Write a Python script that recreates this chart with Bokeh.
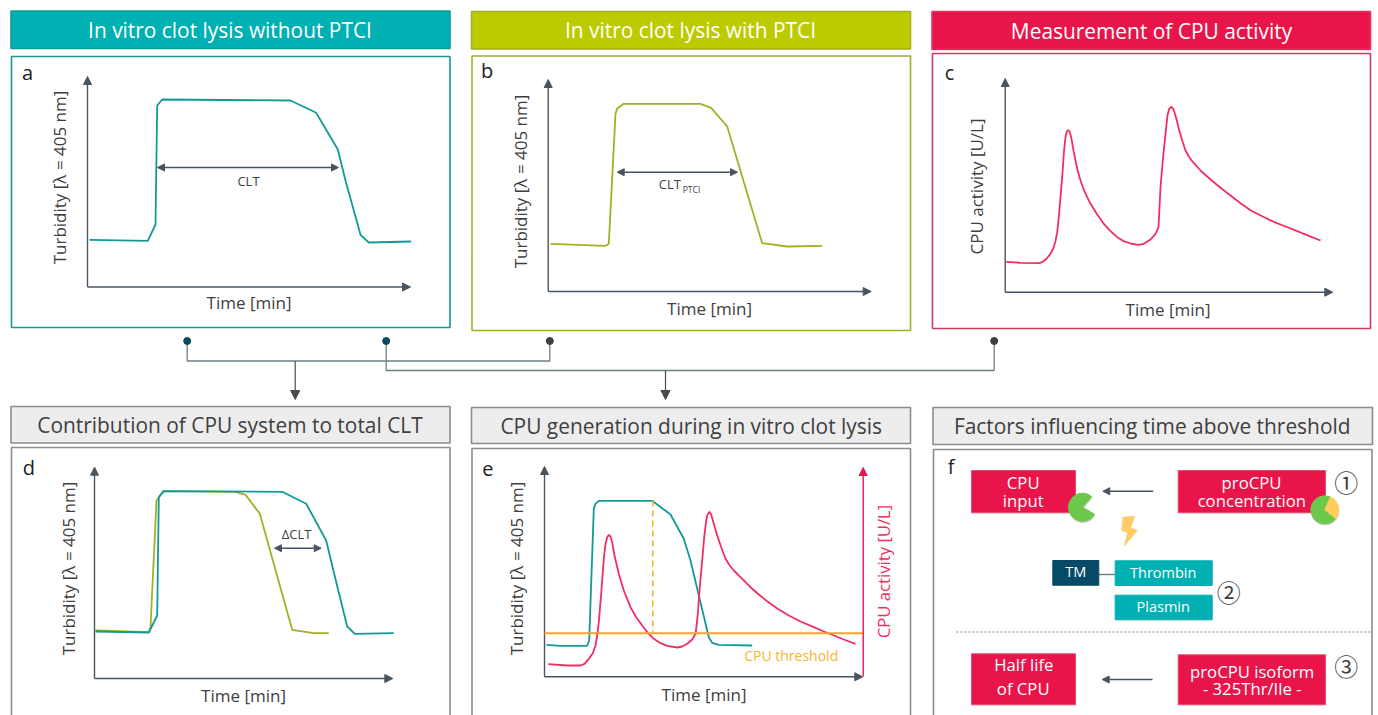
from math import radians, pi
from bokeh.plotting import figure
from bokeh.models import Range1d, Arrow, NormalHead
from bokeh.core.properties import value
from bokeh.embed import file_html
from bokeh.resources import INLINE

W, H = 1378, 715
FONT = "Open Sans"
TEAL, TEAL_LINE = "#00B0B2", "#119A98"
OLIVE, OLIVE_LINE = "#BCCB00", "#A5AF25"
RED, RED_LINE = "#E9144A", "#F02F60"
GREY_FILL, GREY_LINE = "#EDEDED", "#8C8C8C"
AXIS = "#4A5460"
TEXT = "#404040"
ORANGE = "#F5A623"

# Curves: time position, signal position
a_time = [89, 147.3, 155, 156.7, 161.7, 290, 315.7, 337.3, 345, 360, 368.3, 410.7]
a_turbidity = [239.3, 240.3, 224, 105, 99, 100, 112.3, 149, 180, 234.3, 242, 241]
b_time = [550, 605, 608.3, 615, 616.7, 623.3, 700, 710.7, 726.7, 761.7, 786.7, 821.7]
b_turbidity = [243.3, 245.3, 243.3, 113.3, 108, 103.3, 103.3, 107.3, 126, 242.7, 246, 245.3]
c_time = [1005.7, 1020, 1038.3, 1041.7, 1046, 1050, 1052.7, 1055, 1056.7, 1058.3, 1060, 1061.7, 1063.3,
          1065, 1066.3, 1067.7, 1069, 1070.7, 1073.3, 1076.7, 1080, 1083.3, 1086.7, 1090, 1096.7,
          1103.3, 1110, 1116.7, 1123.3, 1130, 1137.7, 1143.3, 1150, 1155, 1158, 1159, 1160, 1162.3,
          1165, 1167, 1168.7, 1171, 1172.7, 1175, 1178.3, 1181.7, 1185, 1188.3, 1191.7, 1200, 1210,
          1220, 1230, 1240, 1250, 1261.7, 1273.3, 1285, 1296.7, 1308.3, 1320]
c_activity = [261.3, 262.3, 262.7, 261.7, 258.3, 253.3, 248.3, 240.7, 231.7, 216.7, 196.7, 176.7, 153.3,
              136.7, 131, 129.7, 130.7, 136.7, 151.7, 168.3, 180, 189.3, 196.7, 203.3, 214,
              223.3, 230.7, 236.7, 240.7, 243, 244.3, 243.3, 239, 233.3, 226.7, 206.7, 186.7, 160,
              133.3, 115, 108.3, 106.3, 108.3, 115, 128.3, 140, 150, 156, 160.7, 170, 179,
              187.3, 195, 202.7, 209.7, 215.7, 221.3, 226, 230.7, 235.3, 240]
d_time_teal = [95, 148.3, 156.7, 158.3, 163.3, 281.7, 305.7, 325.7, 333.3, 346.7, 354.3, 393.3]
d_turb_teal = [631, 632, 615, 496.7, 490.7, 491.3, 503.3, 540, 571.7, 626, 633.3, 632.7]
d_time_olive = [95, 148.3, 150, 156, 162.7, 235, 245, 259.3, 291.7, 313.3, 328.3]
d_turb_olive = [630, 631.7, 626.7, 500, 490.7, 491.3, 494.3, 513.3, 629.3, 632.7, 632.7]
e_time_teal = [546, 560, 586.7, 588.7, 593.3, 595, 598.3, 651.7, 670, 683.3, 690, 708.3, 711.7, 718.3, 751.7]
e_turb_teal = [644.3, 645.3, 645.3, 640, 508.3, 503.3, 500.3, 500.3, 514, 538.3, 560, 636.7, 642.3, 644.3, 645]
e_time_red = [547.7, 566.7, 580, 584, 588.3, 592.3, 595, 596.7, 598.3, 600, 601.7, 603.3, 605, 606.7,
              608.3, 610, 611.7, 614, 618.3, 623.3, 630, 635.7, 641.7, 647.3, 653.3, 660, 666.7, 676.7,
              681.7, 686.7, 691.7, 695, 696.3, 697.3, 699.3, 701.7, 703.7, 705.7, 707, 709, 710.7, 713.3,
              716.7, 720.7, 725, 729, 733.3, 741.7, 750, 758.3, 766.7, 776.7, 788.3, 800, 813.3, 823.3,
              833.3, 843.3, 855]
e_act_red = [663.7, 665, 665, 663.3, 658.3, 652.7, 645, 635, 621.7, 601.7, 580, 558.3, 543.3, 536.7,
             534.3, 536, 541.7, 555, 573.3, 590, 606.7, 616.7, 625, 632.3, 638.3, 642.7, 645.3, 647,
             646, 643.3, 639, 633.3, 623.3, 613.3, 586.7, 560, 536.7, 520, 514, 511.3, 514, 523.3,
             535, 546.7, 558.3, 564.7, 570, 578.3, 586.7, 594, 600.7, 608, 615, 621, 626.7, 631,
             635, 639, 643.3]

# Panels: header text, header box, body box, colours
hdr_text = ["In vitro clot lysis without PTCI", "In vitro clot lysis with PTCI", "Measurement of CPU activity",
            "Contribution of CPU system to total CLT", "CPU generation during in vitro clot lysis",
            "Factors influencing time above threshold"]
hdr_left = [10.5, 471, 931.5, 10.5, 471, 932.5]
hdr_right = [449.5, 910, 1370, 449.5, 910, 1372]
hdr_top = [10.5, 11, 11, 406, 407, 407]
hdr_bottom = [48, 48.5, 49, 442.5, 443, 444]
hdr_x = [229.5, 690, 1151, 229.5, 690.7, 1151.7]
hdr_y = [29, 29, 30, 424.5, 425.5, 425.5]
hdr_fill = [TEAL, OLIVE, RED, GREY_FILL, GREY_FILL, GREY_FILL]
hdr_line = [TEAL_LINE, OLIVE_LINE, RED_LINE, GREY_LINE, GREY_LINE, GREY_LINE]
hdr_color = ["white", "white", "white", TEXT, TEXT, TEXT]
body_left = [11, 471.5, 932, 11, 471.5, 933]
body_right = [449.5, 910, 1370, 449.5, 910, 1371.5]
body_top = [56, 55.5, 53, 447, 448, 449]
body_bottom = [327, 330, 328, 725, 725, 725]
body_line = [TEAL_LINE, OLIVE_LINE, "#D23A5C", GREY_LINE, GREY_LINE, GREY_LINE]
letters = ["a", "b", "c", "d", "e", "f"]
letter_x = [27, 486.7, 949, 28.3, 487.3, 950.7]
letter_y = [71.5, 69.5, 72, 467, 468.5, 465.5]

# Axes: origin x, origin y, arrow top, arrow right
ax_x = [87, 547.7, 1004.7, 94, 544]
ax_y = [286.5, 291, 291.7, 678, 676.3]
ax_top = [76, 79, 78, 466.7, 466]
ax_right = [410, 870.7, 1332.3, 392.3, 862.3]
time_x = [248.5, 709, 1167.5, 243, 703.5]
time_y = [302, 307.7, 309, 694.7, 693.7]
ylab_text = ["Turbidity [λ = 405 nm]", "Turbidity [λ = 405 nm]", "CPU activity [U/L]",
             "Turbidity [λ = 405 nm]", "Turbidity [λ = 405 nm]"]
ylab_x = [58.5, 520, 976, 68, 516]
ylab_y = [177, 181, 186, 568, 568]

# Panel f boxes
red_left = [971, 1177.7, 971, 1177.7]
red_right = [1075, 1325, 1075, 1325]
red_top = [470, 470, 653.3, 654.3]
red_bottom = [512.3, 512.3, 704.3, 704.3]
red_lines = ["CPU", "input", "proCPU", "concentration", "Half life", "of CPU", "proCPU isoform", "- 325Thr/Ile -"]
red_line_x = [1022.7, 1022.7, 1251, 1251.3, 1023.3, 1022.7, 1251.7, 1251.7]
red_line_y = [481.7, 499.7, 481.7, 499.7, 664.3, 687.7, 670.7, 688.3]
enz_text = ["TM", "Thrombin", "Plasmin"]
enz_left = [1052.3, 1114.7, 1114.7]
enz_right = [1098.3, 1211.7, 1211.7]
enz_top = [560, 560.3, 594.7]
enz_bottom = [584.7, 585, 619.3]
enz_fill = ["#064A66", TEAL, TEAL]
enz_x = [1075.3, 1162.7, 1162.7]
enz_y = [571.3, 572, 606.3]
nums = ["①", "②", "③"]
num_x = [1345.7, 1228.3, 1345.7]
num_y = [480.7, 591, 665]
bolt_x = [1122.7, 1134, 1130, 1136.7, 1124, 1127.3, 1121.3]
bolt_y = [516.7, 516, 527.3, 530, 545, 531.7, 530]

p = figure(width=W, height=H, x_range=Range1d(0, W), y_range=Range1d(H, 0),
           x_axis_type=None, y_axis_type=None, toolbar_location=None, output_backend="svg",
           min_border=0, outline_line_color=None, background_fill_color="white", border_fill_color="white")
p.grid.visible = False


def txt(x, y, s, size, color=TEXT, angle=0.0, align="center"):
    p.text([x], [y], text=[s], text_font=value(FONT), text_font_size=value(f"{size}px"), text_color=color,
           text_align=align, text_baseline="middle", angle=angle)


def arrow(x0, y0, x1, y1, color=AXIS, width=1.4, size=8, both=False):
    head = NormalHead(size=size, fill_color=color, line_color=color)
    start = NormalHead(size=size, fill_color=color, line_color=color) if both else None
    p.add_layout(Arrow(x_start=x0, y_start=y0, x_end=x1, y_end=y1, line_color=color, line_width=width,
                       end=head, start=start))


# panel boxes
p.quad(left=body_left, right=body_right, top=body_top, bottom=body_bottom, fill_color="white",
       line_color=body_line, line_width=1.6)
p.quad(left=hdr_left, right=hdr_right, top=hdr_top, bottom=hdr_bottom, fill_color=hdr_fill,
       line_color=hdr_line, line_width=1.6)
for i in range(6):
    txt(hdr_x[i], hdr_y[i], hdr_text[i], 20.9, hdr_color[i])
    txt(letter_x[i], letter_y[i], letters[i], 20, "#222222")

# axes
for i in range(5):
    p.line([ax_x[i], ax_x[i]], [ax_y[i], ax_top[i] + 5], line_color=AXIS, line_width=1.4)
    arrow(ax_x[i], ax_top[i] + 6, ax_x[i], ax_top[i])
    arrow(ax_x[i], ax_y[i], ax_right[i], ax_y[i])
    txt(time_x[i], time_y[i], "Time [min]", 17)
    txt(ylab_x[i], ylab_y[i], ylab_text[i], 17, angle=pi / 2)

# connectors
DOT1, DOT2 = "#0A4A5C", "#404040"
p.line([186.7, 186.7, 549.3, 549.3], [340.5, 360.5, 360.5, 340.5], line_color="#6E7F82", line_width=1.3)
p.line([385.7, 385.7, 993.7, 993.7], [340.5, 370, 370, 340.5], line_color="#6E7F82", line_width=1.3)
p.scatter([186.7, 385.7, 549.3, 993.7], [340.5] * 4, size=7, color=[DOT1, DOT1, DOT2, DOT2])
arrow(294.7, 360.5, 294.7, 399, "#4A4A4A", 1.2, 9)
arrow(665, 370, 665, 399, "#4A4A4A", 1.2, 9)

# curves
p.line(a_time, a_turbidity, line_color=TEAL_LINE, line_width=1.8)
p.line(b_time, b_turbidity, line_color=OLIVE_LINE, line_width=1.8)
p.line(c_time, c_activity, line_color=RED_LINE, line_width=1.8)
p.line(d_time_olive, d_turb_olive, line_color=OLIVE_LINE, line_width=1.8)
p.line(d_time_teal, d_turb_teal, line_color=TEAL_LINE, line_width=1.8)
p.line(e_time_teal, e_turb_teal, line_color=TEAL_LINE, line_width=1.8)
p.line(e_time_red, e_act_red, line_color=RED_LINE, line_width=1.8)

# annotations a, b, d
arrow(157, 167, 338, 167, size=7, both=True)
txt(248, 180, "CLT", 13)
arrow(616.7, 171.7, 737, 171.7, size=7, both=True)
txt(669.3, 183, "CLT", 13)
txt(691, 188.5, "PTCI", 8.5)
arrow(274, 547.7, 320.7, 547.7, size=7, both=True)
txt(296, 533.7, "ΔCLT", 13)

# panel e extras
p.line([544, 862.7], [632.7, 632.7], line_color=ORANGE, line_width=2)
p.line([652.3, 652.3], [500, 632], line_color="#F8B52A", line_width=1.6, line_dash="6 4")
arrow(862.7, 676, 862.7, 467, RED, 1.4, 8)
txt(883, 571, "CPU activity [U/L]", 16.7, RED_LINE, angle=pi / 2)
txt(790.7, 654.7, "CPU threshold", 14, "#F8B52A")

# panel f
p.quad(left=red_left, right=red_right, top=red_top, bottom=red_bottom, fill_color=RED, line_color="#E84A6E", line_width=1)
for s, x, y in zip(red_lines, red_line_x, red_line_y):
    txt(x, y, s, 16.7, "white")
p.line([1098.3, 1114.7], [574, 574], line_color="#6E7F82", line_width=1.4)
p.quad(left=enz_left, right=enz_right, top=enz_top, bottom=enz_bottom, fill_color=enz_fill, line_color=enz_fill)
for s, x, y in zip(enz_text, enz_x, enz_y):
    txt(x, y, s, 14.5, "white")
p.patch(bolt_x, bolt_y, fill_color="#FFCC66", line_color="#FFCC66")
p.line([956, 1370], [631.5, 631.5], line_color="#8A8A8A", line_width=1, line_dash="2 2")
arrow(1152.7, 490.7, 1102.3, 490.7, AXIS, 1.4, 7)
arrow(1152, 679, 1101.7, 679, AXIS, 1.4, 7)
GREEN, PIE_ORANGE = "#6CC84A", "#FFCC5C"
p.wedge([1082.5], [508.5], radius=14, start_angle=radians(49), end_angle=radians(330), fill_color="#444444",
        fill_alpha=0.25, line_color=None)
p.wedge([1082], [506.7], radius=14, start_angle=radians(49), end_angle=radians(330), fill_color=GREEN, line_color=GREEN)
p.circle([1324.5], [511], radius=14, fill_color="#444444", fill_alpha=0.25, line_color=None)
p.wedge([1324.3], [509.3], radius=14, start_angle=radians(67), end_angle=radians(322), fill_color=GREEN, line_color=GREEN)
p.wedge([1324.3], [509.3], radius=14, start_angle=radians(-38), end_angle=radians(67), fill_color=PIE_ORANGE, line_color=PIE_ORANGE)
p.text(num_x, num_y, text=nums, text_font=value("Noto Sans CJK JP"), text_font_size=value("24px"), text_color=TEXT,
       text_align="center", text_baseline="middle")

open("out.html", "w").write(file_html(p, INLINE))
